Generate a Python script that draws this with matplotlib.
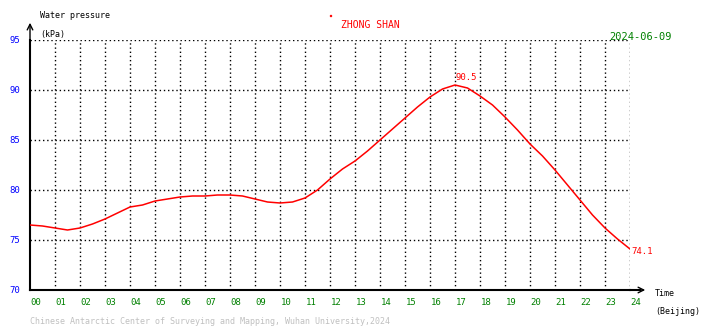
import matplotlib.pyplot as plt
import numpy as np

plt.rcParams["font.family"] = ["DejaVu Sans Mono"]

# water pressure readings (kPa) by hour, Beijing time
hours = [0, 0.5, 1, 1.5, 2, 2.5, 3, 3.5, 4, 4.5, 5, 5.5, 6, 6.5, 7, 7.5, 8, 8.5,
         9, 9.5, 10, 10.5, 11, 11.5, 12, 12.5, 13, 13.5, 14, 14.5, 15, 15.5,
         16, 16.5, 17, 17.5, 18, 18.5, 19, 19.5, 20, 20.5, 21, 21.5, 22, 22.5,
         23, 23.5, 24]
pressure = [76.5, 76.4, 76.2, 76.0, 76.2, 76.6, 77.1, 77.7, 78.3, 78.5, 78.9,
            79.1, 79.3, 79.4, 79.4, 79.5, 79.5, 79.4, 79.1, 78.8, 78.7, 78.8,
            79.2, 80.0, 81.1, 82.1, 82.9, 83.9, 85.0, 86.1, 87.2, 88.3, 89.3,
            90.1, 90.5, 90.2, 89.4, 88.5, 87.3, 86.0, 84.6, 83.4, 82.0, 80.5,
            79.0, 77.5, 76.2, 75.1, 74.1]
peak_label = "90.5"
last_label = "74.1"
yticks = [70, 75, 80, 85, 90, 95]
xticks = list(range(25))

W, H = 710, 328
fig = plt.figure(figsize=(W / 100, H / 100), dpi=100)
ax = fig.add_axes([30 / W, 1 - 290 / H, 600 / W, 250 / H])
ax.set_xlim(0, 24)
ax.set_ylim(70, 95)
ax.set_facecolor("white")

# dotted grid
for h in xticks[1:]:
    ax.axvline(h, color="black", lw=1, ls=(0, (1, 2)), zorder=1)
for v in yticks[1:]:
    ax.axhline(v, color="black", lw=1, ls=(0, (1, 2)), zorder=1)

ax.plot(hours, pressure, color="red", lw=1.1, zorder=3)
ax.text(17.0, 90.5 + 0.3, peak_label, color="red", fontsize=6.5, ha="left", va="bottom")
ax.text(24.05, pressure[-1] - 0.2, last_label, color="red", fontsize=6.5, ha="left",
        va="center", clip_on=False)

for s in ["top", "right"]:
    ax.spines[s].set_visible(False)
for s in ["left", "bottom"]:
    ax.spines[s].set_linewidth(1.5)
ax.set_xticks([])
ax.set_yticks([])

# axis arrows
ax.annotate("", xy=(30 / W, 1 - 20 / H), xytext=(30 / W, 1 - 45 / H),
            xycoords="figure fraction",
            arrowprops=dict(arrowstyle="->", lw=1.0, color="black"))
ax.plot([630 / W, 640 / W], [1 - 290 / H] * 2, transform=fig.transFigure,
        color="black", lw=1.5, clip_on=False)
ax.annotate("", xy=(648 / W, 1 - 290 / H), xytext=(630 / W, 1 - 290 / H),
            xycoords="figure fraction",
            arrowprops=dict(arrowstyle="->", lw=1.0, color="black"))

# tick labels
for v in yticks:
    ax.text(-0.4, v, str(v), color="blue", fontsize=6.5, ha="right", va="center",
            clip_on=False)
for h in xticks:
    ax.text(h + 0.02, 68.8, f"{h:02d}", color="green", fontsize=6.5, ha="left",
            va="center", clip_on=False)

fig.text(40 / W, 1 - 16 / H, "Water pressure", fontsize=6, va="center")
fig.text(40 / W, 1 - 34 / H, "(kPa)", fontsize=6, va="center")
fig.text(655 / W, 1 - 294 / H, "Time", fontsize=6, va="center")
fig.text(655 / W, 1 - 311 / H, "(Beijing)", fontsize=6, va="center")
fig.text(370 / W, 1 - 25 / H, "ZHONG SHAN", color="red", fontsize=7, ha="center",
         va="center")
fig.text(672 / W, 1 - 37 / H, "2024-06-09", color="green", fontsize=7.5, ha="right",
         va="center")
fig.text(30 / W, 1 - 321 / H,
         "Chinese Antarctic Center of Surveying and Mapping, Wuhan University,2024",
         color="#c0c0c0", fontsize=6, va="center")
fig.patches.append(plt.Rectangle((330 / W, 1 - 16 / H), 1 / W, 1 / H, color="red",
                                 transform=fig.transFigure, figure=fig))

fig.savefig("out.png", dpi=100)
